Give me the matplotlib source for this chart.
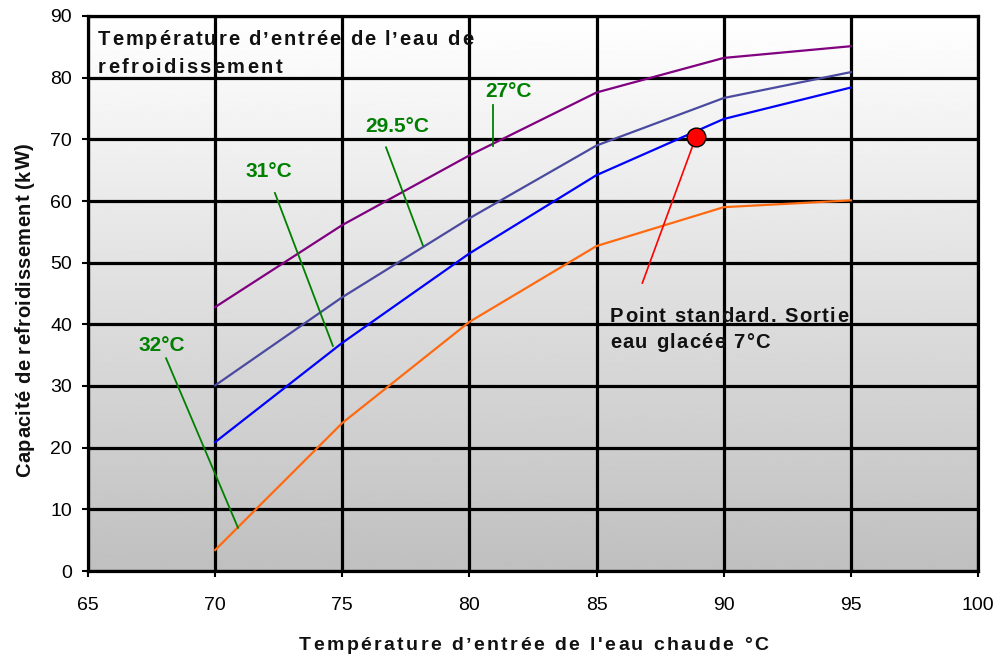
import numpy as np
import matplotlib
matplotlib.use("Agg")
import matplotlib.pyplot as plt
from matplotlib.font_manager import FontProperties, findfont
from matplotlib.ft2font import FT2Font

# ---- data ----
x_temp = [70, 75, 80, 85, 90, 95]
cap_27 = [42.8, 56.1, 67.4, 77.6, 83.2, 85.1]
cap_295 = [30.1, 44.4, 57.2, 69.0, 76.7, 80.9]
cap_31 = [20.9, 37.0, 51.5, 64.2, 73.3, 78.4]
cap_32 = [3.4, 24.0, 40.4, 52.7, 59.0, 60.1]
series_labels = ["27°C", "29.5°C", "31°C", "32°C"]
std_point_x = [88.9]
std_point_y = [70.3]
x_ticks = [65, 70, 75, 80, 85, 90, 95, 100]
y_ticks = [0, 10, 20, 30, 40, 50, 60, 70, 80, 90]

W, H, DPI = 1002, 658, 100
plt.rcParams['font.family'] = ['Liberation Sans', 'DejaVu Sans']

fig = plt.figure(figsize=(W / DPI, H / DPI), dpi=DPI)
ax = fig.add_axes([88 / W, 1 - 571 / H, 890 / W, 555 / H])
ax.set_xlim(65, 100)
ax.set_ylim(0, 90)
renderer = fig.canvas.get_renderer()


def spaced_text(s, x_px, y_px, size, target_w, weight='bold', color='#111111', vertical=False):
    """Draw text char by char with letter spacing so it spans target_w pixels."""
    prop = FontProperties(family='Liberation Sans', weight=weight, size=size)
    ft = FT2Font(findfont(prop))
    ft.set_size(size, DPI)
    raw = [float(ft.load_char(ord(c)).linearHoriAdvance) for c in s]
    w_total, _, _ = renderer.get_text_width_height_descent(s, prop, ismath=False)
    scale = w_total / sum(raw)
    adv = [r * scale for r in raw]
    track = (target_w - w_total) / max(len(s) - 1, 1)
    pos = 0.0
    for c, a in zip(s, adv):
        if c != ' ':
            if vertical:
                fig.text(x_px / W, 1 - (y_px - pos) / H, c, fontproperties=prop, color=color,
                         rotation=90, rotation_mode='anchor', ha='left', va='baseline')
            else:
                fig.text((x_px + pos) / W, 1 - y_px / H, c, fontproperties=prop, color=color,
                         ha='left', va='baseline')
        pos += a + track


# gradient background
grad = np.linspace(1.0, 0.75, 256).reshape(-1, 1)
ax.imshow(grad, cmap='gray', vmin=0, vmax=1, aspect='auto',
          extent=[0, 1, 0, 1], transform=ax.transAxes, zorder=0)

# grid
for xv in x_ticks:
    ax.axvline(xv, color='black', lw=2.3, zorder=1)
for yv in y_ticks:
    ax.axhline(yv, color='black', lw=2.3, zorder=1)
for s in ax.spines.values():
    s.set_color('black'); s.set_linewidth(2.3)

ax.set_xticks(x_ticks)
ax.set_yticks(y_ticks)
ax.tick_params(axis='both', length=4.5, width=1.5, color='black', labelsize=14)
ax.tick_params(axis='x', pad=14)
ax.tick_params(axis='y', pad=7)

# series
ax.plot(x_temp, cap_27, color='#800080', lw=1.6, zorder=3)
ax.plot(x_temp, cap_295, color='#4A4AA0', lw=1.6, zorder=3)
ax.plot(x_temp, cap_31, color='#0000FF', lw=1.6, zorder=3)
ax.plot(x_temp, cap_32, color='#FF6A10', lw=1.6, zorder=3)

# green leader lines and labels
green = '#008000'
lead_x0 = [80.93, 76.72, 72.35, 68.07]
lead_y0 = [75.5, 68.7, 61.3, 34.5]
lead_x1 = [80.93, 78.17, 74.63, 70.9]
lead_y1 = [68.9, 52.8, 36.5, 7.0]
lab_x = [80.61, 75.89, 71.21, 66.97]
lab_y = [76.9, 71.2, 63.9, 35.7]
for i, txt in enumerate(series_labels):
    ax.plot([lead_x0[i], lead_x1[i]], [lead_y0[i], lead_y1[i]], color=green, lw=1.3, zorder=4)
    ax.text(lab_x[i], lab_y[i], txt, color=green, fontsize=15, fontweight='bold',
            ha='left', va='baseline', zorder=5)

# standard point
ax.plot([std_point_x[0], 86.8], [std_point_y[0], 46.7], color='#FF0000', lw=1.2, zorder=4)
ax.plot(std_point_x, std_point_y, marker='o', markersize=13.5, linestyle='none',
        markerfacecolor='#FF0000', markeredgecolor='black', markeredgewidth=1.0, zorder=6)

# letter-spaced texts
spaced_text("Température d’entrée de l’eau de", 98, 45, 14.5, 375)
spaced_text("refroidissement", 98, 73, 14.5, 184)
spaced_text("Point standard. Sortie", 610, 322, 14.5, 238)
spaced_text("eau glacée 7°C", 610, 348, 14.5, 160)
spaced_text("Température d’entrée de l'eau chaude °C", 299, 650, 14, 469)
spaced_text("Capacité de refroidissement (kW)", 30, 477, 14.5, 334, vertical=True)

fig.savefig("out.png", dpi=DPI)
